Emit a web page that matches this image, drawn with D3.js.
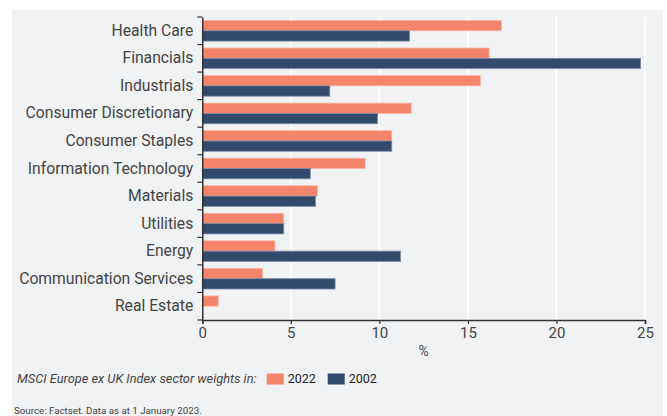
<!DOCTYPE html>
<html>
<head>
<meta charset="utf-8">
<script src="https://cdn.jsdelivr.net/npm/d3@7"></script>
<style>
  body { margin: 0; background: #fff; }
  svg text { fill: #444; font-family: Roboto, "Open Sans", sans-serif; }
</style>
</head>
<body>
<script>
// sector weights, MSCI Europe ex UK
var sectors = ["Health Care", "Financials", "Industrials", "Consumer Discretionary",
  "Consumer Staples", "Information Technology", "Materials", "Utilities",
  "Energy", "Communication Services", "Real Estate"];
var w2022 = [16.9, 16.2, 15.7, 11.8, 10.7, 9.2, 6.5, 4.6, 4.1, 3.4, 0.9];
var w2002 = [11.7, 24.75, 7.2, 9.9, 10.7, 6.1, 6.4, 4.6, 11.2, 7.5, 0];
var years = ["2022", "2002"];
var xTicks = [0, 5, 10, 15, 20, 25];

var colors = {"2022": "#f4846a", "2002": "#324a6b"};
var strokes = {"2022": "#f9b8a8", "2002": "#7d8da5"};

var width = 667, height = 416;

var svg = d3.select("body").append("svg")
    .attr("width", width)
    .attr("height", height);

svg.append("rect")
    .attr("x", 12).attr("y", 10)
    .attr("width", 651).attr("height", height - 10)
    .attr("fill", "#f1f2f4");

var x = d3.scaleLinear().domain([0, 25]).range([202.3, 645]);
var y = d3.scaleBand().domain(sectors).range([17, 320]);
var yInner = d3.scaleBand().domain(years).range([0, y.bandwidth()]).paddingOuter(0.335).paddingInner(0);

// grid
svg.append("g").selectAll("line")
    .data(xTicks.slice(1))
    .enter().append("line")
    .attr("x1", function(d) { return x(d); })
    .attr("x2", function(d) { return x(d); })
    .attr("y1", 17).attr("y2", 320)
    .attr("stroke", "#fff").attr("stroke-width", 1.5);

var rows = sectors.map(function(s, i) { return {name: s, v: {"2022": w2022[i], "2002": w2002[i]}}; });

var g = svg.append("g").selectAll("g")
    .data(rows)
    .enter().append("g")
    .attr("transform", function(d) { return "translate(0," + y(d.name) + ")"; });

g.selectAll("rect")
    .data(function(d) { return years.map(function(k) { return {k: k, v: d.v[k]}; }).filter(function(d) { return d.v > 0; }); })
    .enter().append("rect")
    .attr("x", x(0))
    .attr("y", function(d) { return yInner(d.k); })
    .attr("width", function(d) { return x(d.v) - x(0); })
    .attr("height", yInner.bandwidth())
    .attr("fill", function(d) { return colors[d.k]; })
    .attr("stroke", function(d) { return strokes[d.k]; })
    .attr("stroke-width", 0.8);

// x axis
var xAxis = svg.append("g")
    .attr("transform", "translate(0,320)")
    .call(d3.axisBottom(x).tickValues(xTicks).tickSize(4).tickPadding(3));
xAxis.attr("font-family", null);
xAxis.select(".domain").attr("stroke", "#333").attr("stroke-width", 1.5);
xAxis.selectAll(".tick line").attr("stroke", "#333").attr("stroke-width", 1.2);
xAxis.selectAll("text").style("font-size", "15px").attr("fill", "#444");

svg.append("text")
    .attr("x", x(12.5)).attr("y", 356)
    .attr("text-anchor", "middle")
    .style("font-size", "14px")
    .text("%");

// y axis
var yAxis = svg.append("g")
    .attr("transform", "translate(" + x(0) + ",0)")
    .call(d3.axisLeft(y).tickSize(0).tickPadding(9));
yAxis.attr("font-family", null);
yAxis.select(".domain").attr("stroke", "#333").attr("stroke-width", 1.5);
yAxis.selectAll("text").style("font-size", "15.7px").attr("fill", "#444");

var bounds = sectors.map(function(s) { return y(s); }).concat([y.range()[1]]);
yAxis.selectAll(".bound")
    .data(bounds)
    .enter().append("line")
    .attr("class", "bound")
    .attr("x1", -5).attr("x2", 0)
    .attr("y1", function(d) { return d; })
    .attr("y2", function(d) { return d; })
    .attr("stroke", "#333").attr("stroke-width", 1.2);

// legend
var legend = svg.append("g").attr("transform", "translate(0,379)");
legend.append("text")
    .attr("x", 17).attr("dy", "0.35em")
    .style("font-size", "12.8px").style("font-style", "italic")
    .text("MSCI Europe ex UK Index sector weights in:");

var legX = [266.7, 327.7];
years.forEach(function(k, i) {
  legend.append("rect")
      .attr("x", legX[i]).attr("y", -5.5)
      .attr("width", 17).attr("height", 11)
      .attr("fill", colors[k]);
  legend.append("text")
      .attr("x", legX[i] + 21).attr("dy", "0.35em")
      .style("font-size", "12.5px")
      .style("fill", "#222")
      .text(k);
});

var src = svg.append("text")
    .attr("x", 14).attr("y", 413.5)
    .style("font-size", "11px")
    .text("Source: Factset. Data as at 1 January 2023.");
// shrink to the width it has in the original
var srcLen = src.node().getComputedTextLength();
if (srcLen > 188) src.style("font-size", (11 * 188 / srcLen) + "px");
</script>
</body>
</html>
